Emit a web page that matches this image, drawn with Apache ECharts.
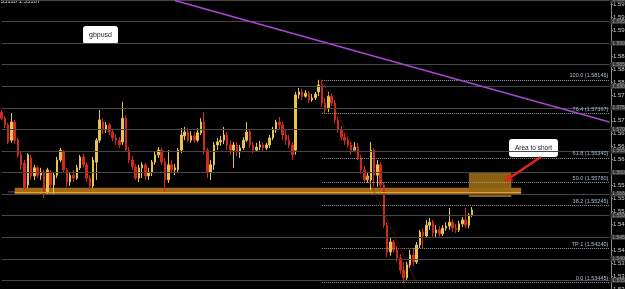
<!DOCTYPE html>
<html>
<head>
<meta charset="utf-8">
<script src="https://cdn.jsdelivr.net/npm/echarts@6/dist/echarts.min.js"></script>
<style>
  html, body { margin: 0; padding: 0; background: #000; }
  #chart { width: 625px; height: 289px; }
</style>
</head>
<body>
<div id="chart"></div>
<script>
// gbpusd H1 candles
const SLOTS = 187; // chart is shifted, empty room on the right

const opens = [
  1.5740,1.5726,1.5710,1.5675,1.5717,1.5675,1.5641,1.5622,1.5571,1.5634,
  1.5592,1.5611,1.5594,1.5601,1.5555,1.5601,1.5571,1.5594,1.5629,1.5648,
  1.5606,1.5578,1.5594,1.5587,1.5611,1.5636,1.5618,1.5587,1.5569,1.5624,
  1.5675,1.5717,1.5699,1.5710,1.5694,1.5680,1.5675,1.5671,1.5726,1.5652,
  1.5629,1.5613,1.5587,1.5611,1.5618,1.5592,1.5601,1.5624,1.5641,1.5652,
  1.5624,1.5583,1.5618,1.5606,1.5606,1.5652,1.5685,1.5694,1.5675,1.5685,
  1.5675,1.5692,1.5717,1.5652,1.5601,1.5618,1.5664,1.5671,1.5675,1.5687,
  1.5664,1.5652,1.5664,1.5648,1.5657,1.5675,1.5694,1.5664,1.5652,1.5659,
  1.5664,1.5657,1.5664,1.5680,1.5699,1.5717,1.5710,1.5687,1.5675,1.5664,
  1.5652,1.5780,1.5787,1.5777,1.5784,1.5768,1.5773,1.5787,1.5803,1.5761,
  1.5750,1.5777,1.5761,1.5722,1.5699,1.5682,1.5675,1.5664,1.5652,1.5659,
  1.5634,1.5606,1.5583,1.5583,1.5652,1.5594,1.5618,1.5571,1.5478,1.5416,
  1.5439,1.5421,1.5402,1.5374,1.5356,1.5386,1.5409,1.5393,1.5432,1.5462,
  1.5453,1.5478,1.5485,1.5460,1.5467,1.5458,1.5471,1.5476,1.5485,1.5471,
  1.5467,1.5481,1.5490,1.5478,1.5502
];
const closes = [
  1.5726,1.5710,1.5671,1.5717,1.5675,1.5641,1.5618,1.5564,1.5641,1.5592,
  1.5611,1.5594,1.5601,1.5548,1.5606,1.5571,1.5594,1.5629,1.5652,1.5606,
  1.5578,1.5594,1.5587,1.5611,1.5636,1.5618,1.5587,1.5569,1.5629,1.5675,
  1.5722,1.5699,1.5710,1.5694,1.5680,1.5675,1.5664,1.5726,1.5652,1.5629,
  1.5613,1.5587,1.5611,1.5618,1.5592,1.5601,1.5624,1.5641,1.5652,1.5624,
  1.5583,1.5618,1.5606,1.5611,1.5652,1.5687,1.5694,1.5675,1.5685,1.5675,
  1.5692,1.5717,1.5652,1.5601,1.5618,1.5664,1.5671,1.5675,1.5687,1.5664,
  1.5652,1.5664,1.5648,1.5657,1.5675,1.5694,1.5664,1.5652,1.5659,1.5664,
  1.5657,1.5664,1.5680,1.5699,1.5717,1.5710,1.5687,1.5675,1.5664,1.5641,
  1.5780,1.5787,1.5777,1.5784,1.5768,1.5773,1.5782,1.5803,1.5761,1.5745,
  1.5777,1.5761,1.5722,1.5699,1.5682,1.5675,1.5664,1.5652,1.5659,1.5634,
  1.5606,1.5583,1.5592,1.5652,1.5594,1.5618,1.5571,1.5478,1.5416,1.5439,
  1.5421,1.5402,1.5374,1.5356,1.5386,1.5409,1.5393,1.5432,1.5462,1.5453,
  1.5478,1.5485,1.5460,1.5467,1.5458,1.5471,1.5476,1.5485,1.5471,1.5467,
  1.5481,1.5490,1.5478,1.5502,1.5513
];
const lows = [
  1.5722,1.5703,1.5666,1.5669,1.5666,1.5634,1.5606,1.5560,1.5564,1.5583,
  1.5583,1.5587,1.5583,1.5541,1.5548,1.5564,1.5548,1.5587,1.5624,1.5599,
  1.5567,1.5569,1.5578,1.5583,1.5606,1.5611,1.5578,1.5560,1.5564,1.5583,
  1.5669,1.5689,1.5692,1.5687,1.5673,1.5664,1.5657,1.5664,1.5648,1.5622,
  1.5606,1.5583,1.5578,1.5587,1.5583,1.5583,1.5592,1.5618,1.5634,1.5618,
  1.5555,1.5576,1.5599,1.5594,1.5601,1.5645,1.5675,1.5671,1.5669,1.5669,
  1.5671,1.5687,1.5641,1.5587,1.5583,1.5606,1.5652,1.5662,1.5666,1.5652,
  1.5641,1.5611,1.5638,1.5634,1.5652,1.5671,1.5657,1.5645,1.5648,1.5652,
  1.5650,1.5652,1.5657,1.5675,1.5692,1.5699,1.5675,1.5664,1.5657,1.5629,
  1.5641,1.5771,1.5768,1.5773,1.5761,1.5764,1.5768,1.5777,1.5752,1.5738,
  1.5740,1.5754,1.5715,1.5692,1.5675,1.5664,1.5657,1.5641,1.5648,1.5629,
  1.5597,1.5576,1.5576,1.5560,1.5567,1.5567,1.5560,1.5471,1.5404,1.5407,
  1.5414,1.5393,1.5365,1.5344,1.5351,1.5379,1.5383,1.5388,1.5425,1.5425,
  1.5448,1.5467,1.5451,1.5448,1.5451,1.5453,1.5465,1.5467,1.5462,1.5460,
  1.5462,1.5474,1.5471,1.5471,1.5497
];
const highs = [
  1.5745,1.5731,1.5715,1.5738,1.5722,1.5680,1.5648,1.5629,1.5645,1.5641,
  1.5618,1.5615,1.5611,1.5606,1.5611,1.5606,1.5601,1.5636,1.5657,1.5652,
  1.5611,1.5601,1.5606,1.5618,1.5641,1.5643,1.5624,1.5594,1.5636,1.5680,
  1.5745,1.5726,1.5717,1.5715,1.5699,1.5689,1.5682,1.5764,1.5733,1.5659,
  1.5638,1.5620,1.5618,1.5624,1.5622,1.5611,1.5629,1.5648,1.5659,1.5657,
  1.5634,1.5652,1.5629,1.5620,1.5657,1.5703,1.5706,1.5703,1.5696,1.5694,
  1.5703,1.5726,1.5740,1.5657,1.5629,1.5671,1.5680,1.5685,1.5706,1.5694,
  1.5675,1.5671,1.5671,1.5664,1.5682,1.5717,1.5699,1.5671,1.5669,1.5673,
  1.5671,1.5669,1.5687,1.5706,1.5722,1.5729,1.5717,1.5699,1.5687,1.5671,
  1.5787,1.5796,1.5794,1.5791,1.5789,1.5782,1.5787,1.5815,1.5815,1.5773,
  1.5787,1.5784,1.5768,1.5729,1.5708,1.5692,1.5682,1.5671,1.5671,1.5669,
  1.5641,1.5615,1.5601,1.5671,1.5657,1.5629,1.5624,1.5578,1.5485,1.5448,
  1.5444,1.5430,1.5411,1.5393,1.5393,1.5421,1.5425,1.5439,1.5467,1.5471,
  1.5490,1.5495,1.5490,1.5478,1.5476,1.5478,1.5485,1.5518,1.5492,1.5481,
  1.5488,1.5497,1.5518,1.5506,1.5520
];

// horizontal line objects on the chart
const levelLines = [1.600, 1.595, 1.590, 1.585, 1.580, 1.575, 1.570, 1.565, 1.560, 1.555, 1.550, 1.545, 1.540, 1.535];

// fibo retracement, drawn from bar 98 to the right edge
const fibStart = 98;
const fibPrices = [1.58146, 1.57367, 1.56340, 1.55780, 1.55245, 1.54240, 1.53445];
const fibNames = ['100.0 (1.58146)', '76.4 (1.57367)', '61.8 (1.56340)', '50.0 (1.55780)', '38.2 (1.55245)', 'TP 1 (1.54240)', '0.0 (1.53445)'];
const fibDiagonal = [[98, 1.5815], [127, 1.5344]];

const trendLine = [[53, 1.5999], [186, 1.5717]];
const purpleStub = [[2, 1.5555], [4, 1.5555]];
const supportZone = [[4, 1.5565], [159, 1.5550]];
const supportStripe = 1.5555;
const shortBox = [[143, 1.5601], [156, 1.5543]];
const arrowPath = [[165, 1.5636], [154, 1.5580]];
const priceTag = 1.5541;

const categories = Array.from({ length: SLOTS }, (_, i) => String(i));
const candles = opens.map((o, i) => [o, closes[i], lows[i], highs[i]]);

const chart = echarts.init(document.getElementById('chart'));

const option = {
  backgroundColor: '#000',
  animation: false,
  textStyle: { fontFamily: 'Liberation Sans, Arial, sans-serif' },
  grid: { left: 0, right: 14, top: 0, bottom: 0, containLabel: false, outerBoundsMode: 'none' },
  xAxis: {
    type: 'category',
    data: categories,
    boundaryGap: true,
    axisLine: { show: false },
    axisTick: { show: false },
    axisLabel: { show: false },
    splitLine: { show: false }
  },
  yAxis: {
    type: 'value',
    position: 'right',
    min: 1.533,
    max: 1.600,
    interval: 0.003,
    axisLine: { show: true, lineStyle: { color: '#8a8a8a', width: 1 } },
    axisTick: { show: true, length: 2, lineStyle: { color: '#8a8a8a' } },
    axisLabel: {
      show: true, fontSize: 6, color: '#cfcfcf', margin: 2,
      showMaxLabel: false, hideOverlap: false,
      formatter: (v) => v.toFixed(4)
    },
    splitLine: { show: false }
  },
  series: [
    {
      name: 'levels',
      type: 'line',
      data: [],
      silent: true,
      markLine: {
        silent: true,
        symbol: ['none', 'none'],
        lineStyle: { color: '#474747', width: 1.2, type: 'solid' },
        label: {
          show: true, position: 'end', distance: 1,
          fontSize: 5, color: '#9a9a9a', backgroundColor: '#3a3a3a',
          padding: [0, 2, 0, 2]
        },
        data: levelLines.map((v) => [
          { coord: [0, v] },
          { coord: [SLOTS - 1, v], label: { formatter: v.toFixed(4) } }
        ])
      }
    },
    {
      name: 'gbpusd',
      type: 'candlestick',
      data: candles,
      barWidth: 2,
      itemStyle: {
        color: '#e8c44c',
        color0: '#d02a1e',
        borderColor: '#e8c44c',
        borderColor0: '#d02a1e',
        borderWidth: 1
      },
      z: 3,
      markLine: {
        silent: true,
        symbol: ['none', 'none'],
        lineStyle: { opacity: 0 },
        label: {
          show: true, position: 'end', distance: 1,
          fontSize: 5, color: '#111', backgroundColor: '#f2f2f2',
          padding: [0, 2, 0, 2],
          formatter: priceTag.toFixed(4)
        },
        data: [[{ coord: [SLOTS - 2, priceTag] }, { coord: [SLOTS - 1, priceTag] }]]
      }
    },
    {
      name: 'zones',
      type: 'line',
      data: [],
      silent: true,
      z: 4,
      markArea: {
        silent: true,
        data: [
          [
            { coord: supportZone[0], itemStyle: { color: 'rgba(190,122,24,0.88)' } },
            { coord: supportZone[1] }
          ],
          [
            { coord: shortBox[0], itemStyle: { color: 'rgba(150,104,18,0.92)' } },
            { coord: shortBox[1] }
          ]
        ]
      },
      markLine: {
        silent: true,
        symbol: ['none', 'none'],
        label: { show: false },
        data: [
          [
            { coord: [supportZone[0][0], supportStripe], lineStyle: { color: '#dca04a', width: 1, type: 'solid' } },
            { coord: [supportZone[1][0], supportStripe] }
          ]
        ]
      }
    },
    {
      name: 'fibo',
      type: 'line',
      data: [],
      silent: true,
      z: 5,
      markLine: {
        silent: true,
        symbol: ['none', 'none'],
        lineStyle: { color: '#9c9c9c', width: 1, type: 'dotted' },
        label: {
          show: true, position: 'insideEndTop', distance: [1, 1],
          fontSize: 5.5, color: '#a9bdd2'
        },
        data: fibPrices.map((p, i) => [
          { coord: [fibStart, p] },
          { coord: [SLOTS - 1, p], label: { formatter: fibNames[i] } }
        ])
      }
    },
    {
      name: 'fiboDiagonal',
      type: 'line',
      data: fibDiagonal,
      symbol: 'none',
      silent: true,
      z: 5,
      lineStyle: { color: '#9a1c14', width: 1, type: 'dotted' }
    },
    {
      name: 'trend',
      type: 'line',
      data: trendLine,
      symbol: 'none',
      silent: true,
      z: 5,
      lineStyle: { color: '#a848d0', width: 1.5 }
    },
    {
      name: 'stub',
      type: 'line',
      data: purpleStub,
      symbol: 'none',
      silent: true,
      z: 5,
      lineStyle: { color: '#8a3cc0', width: 1 }
    },
    {
      name: 'arrow',
      type: 'line',
      data: [],
      silent: true,
      z: 6,
      markLine: {
        silent: true,
        symbol: ['none', 'arrow'],
        symbolSize: [7, 8],
        label: { show: false },
        lineStyle: { color: '#e8231b', width: 2.5, type: 'solid' },
        data: [[{ coord: arrowPath[0] }, { coord: arrowPath[1] }]]
      }
    }
  ],
  graphic: [
    {
      type: 'text', left: -1, top: -2, silent: true,
      style: { text: '.55118 1.55187', fontSize: 6, fill: '#d8d8d8', fontFamily: 'Liberation Sans, Arial, sans-serif' }
    },
    {
      type: 'group', left: 83, top: 26, silent: true,
      children: [
        { type: 'rect', shape: { x: 0, y: 0, width: 35, height: 18, r: 3 }, style: { fill: '#fff' } },
        { type: 'text', x: 17.5, y: 9, style: { text: 'gbpusd', fontSize: 7, fill: '#222', align: 'center', verticalAlign: 'middle', fontFamily: 'Liberation Sans, Arial, sans-serif' } }
      ]
    },
    {
      type: 'group', left: 509, top: 139, silent: true,
      children: [
        { type: 'rect', shape: { x: 0, y: 0, width: 49, height: 18, r: 3 }, style: { fill: '#fff' } },
        { type: 'text', x: 24.5, y: 9, style: { text: 'Area to short', fontSize: 6.5, fill: '#222', align: 'center', verticalAlign: 'middle', fontFamily: 'Liberation Sans, Arial, sans-serif' } }
      ]
    }
  ]
};

chart.setOption(option);
</script>
</body>
</html>
